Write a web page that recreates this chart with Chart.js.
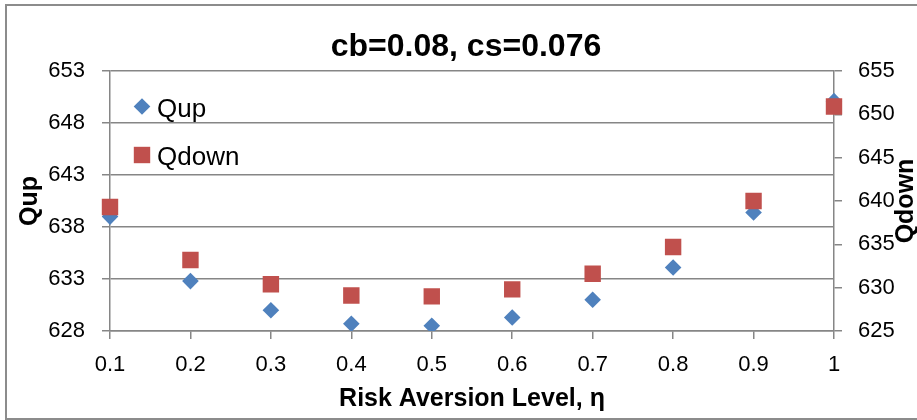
<!DOCTYPE html>
<html>
<head>
<meta charset="utf-8">
<script src="https://cdn.jsdelivr.net/npm/chart.js@4.4.1/dist/chart.umd.min.js"></script>
<style>
  html, body { margin: 0; padding: 0; background: #fff; }
  #wrap { position: relative; width: 917px; height: 420px; }
</style>
</head>
<body>
<div id="wrap"><canvas id="myScatterChart"></canvas></div>
<script>
const riskLevels = ['0.1', '0.2', '0.3', '0.4', '0.5', '0.6', '0.7', '0.8', '0.9', '1'];
const qupValues = [639.0, 632.8, 630.0, 628.7, 628.5, 629.3, 631.0, 634.1, 639.4, 650.1];
const qdownValues = [639.3, 633.2, 630.4, 629.1, 629.0, 629.8, 631.6, 634.7, 640.0, 650.9];
const qupTicks = [628, 653, 5];    // min, max, step
const qdownTicks = [625, 655, 5];

const gridColor = '#868686';
Chart.defaults.font.family = "'Liberation Sans', Arial, sans-serif";
Chart.defaults.color = '#000';

// grey frame around the whole chart
const framePlugin = {
    id: 'frame',
    beforeDraw(chart) {
        const ctx = chart.ctx;
        ctx.save();
        ctx.strokeStyle = '#8c8c8c';
        ctx.lineWidth = 2;
        ctx.strokeRect(6, 5, 940, 414);
        ctx.restore();
    }
};

// legend inside the plot, top left, one item per row
const innerLegend = {
    id: 'innerLegend',
    afterDraw(chart) {
        const ctx = chart.ctx;
        const area = chart.chartArea;
        ctx.save();
        ctx.font = "26px 'Liberation Sans', Arial, sans-serif";
        ctx.textAlign = 'left';
        ctx.textBaseline = 'alphabetic';
        chart.data.datasets.forEach(function (ds, i) {
            const cx = area.left + 32;
            const cy = area.top + 35.5 + i * 48.5;
            ctx.fillStyle = ds.backgroundColor;
            Chart.helpers.drawPoint(ctx, {
                pointStyle: ds.pointStyle,
                radius: ds.pointRadius,
                rotation: 0,
                borderWidth: 0
            }, cx, cy);
            ctx.fillStyle = '#000';
            ctx.fillText(ds.label, area.left + 47, cy + 10);
        });
        ctx.restore();
    }
};

// right axis title, reading bottom to top like the left one
const rightTitle = {
    id: 'rightTitle',
    afterDraw(chart) {
        const ctx = chart.ctx;
        const area = chart.chartArea;
        const text = chart.options.scales.y1.title.text;
        ctx.save();
        ctx.translate(906, (area.top + area.bottom) / 2);
        ctx.rotate(-Math.PI / 2);
        ctx.font = "bold 25px 'Liberation Sans', Arial, sans-serif";
        ctx.fillStyle = '#000';
        ctx.textAlign = 'center';
        ctx.textBaseline = 'middle';
        ctx.fillText(text, 0, 0);
        ctx.restore();
    }
};

const ctx = document.getElementById('myScatterChart');

new Chart(ctx, {
    type: 'line',
    data: {
        labels: riskLevels,
        datasets: [{
            label: 'Qup',
            data: qupValues,
            yAxisID: 'y',
            showLine: false,
            pointStyle: 'rectRot',
            pointRadius: 8.3,
            pointBorderWidth: 0,
            backgroundColor: '#4F81BD',
            borderColor: '#4F81BD',
            order: 1
        }, {
            label: 'Qdown',
            data: qdownValues,
            yAxisID: 'y1',
            showLine: false,
            pointStyle: 'rect',
            pointRadius: 11.6,
            pointBorderWidth: 0,
            backgroundColor: '#C0504D',
            borderColor: '#C0504D',
            order: 0
        }]
    },
    options: {
        responsive: true,
        maintainAspectRatio: false,
        animation: false,
        events: [],
        layout: {
            padding: { left: 15, right: 0, top: 0, bottom: 0 }
        },
        scales: {
            x: {
                type: 'category',
                offset: false,
                grid: {
                    drawOnChartArea: false,
                    color: gridColor,
                    lineWidth: 1.5,
                    tickLength: 8
                },
                border: { color: gridColor, width: 1.5 },
                ticks: {
                    padding: 13,
                    maxRotation: 0,
                    font: { size: 22 }
                },
                title: {
                    display: true,
                    text: 'Risk Aversion Level, η',
                    font: { size: 25, weight: 'bold' },
                    padding: { top: 0, bottom: 6 }
                },
                afterFit(scale) { scale.height = 89; }
            },
            y: {
                position: 'left',
                min: qupTicks[0],
                max: qupTicks[1],
                ticks: {
                    stepSize: qupTicks[2],
                    padding: 17,
                    font: { size: 22 }
                },
                grid: {
                    color: gridColor,
                    lineWidth: 1.5,
                    tickLength: 8
                },
                border: { color: gridColor, width: 1.5 },
                title: {
                    display: true,
                    text: 'Qup',
                    font: { size: 25, weight: 'bold' },
                    padding: { top: 0, bottom: 0 }
                },
                afterFit(scale) { scale.width = 95; }
            },
            y1: {
                position: 'right',
                min: qdownTicks[0],
                max: qdownTicks[1],
                ticks: {
                    stepSize: qdownTicks[2],
                    padding: 16,
                    font: { size: 22 }
                },
                grid: {
                    drawOnChartArea: false,
                    color: gridColor,
                    lineWidth: 1.5,
                    tickLength: 8
                },
                border: { color: gridColor, width: 1.5 },
                title: {
                    display: false,
                    text: 'Qdown'
                },
                afterFit(scale) { scale.width = 83; }
            }
        },
        plugins: {
            legend: { display: false },
            tooltip: { enabled: false },
            title: {
                display: true,
                text: 'cb=0.08, cs=0.076',
                font: { size: 32, weight: 'bold' },
                color: '#000',
                padding: { top: 27.8, bottom: 4.8 }
            }
        }
    },
    plugins: [framePlugin, innerLegend, rightTitle]
});
</script>
</body>
</html>
